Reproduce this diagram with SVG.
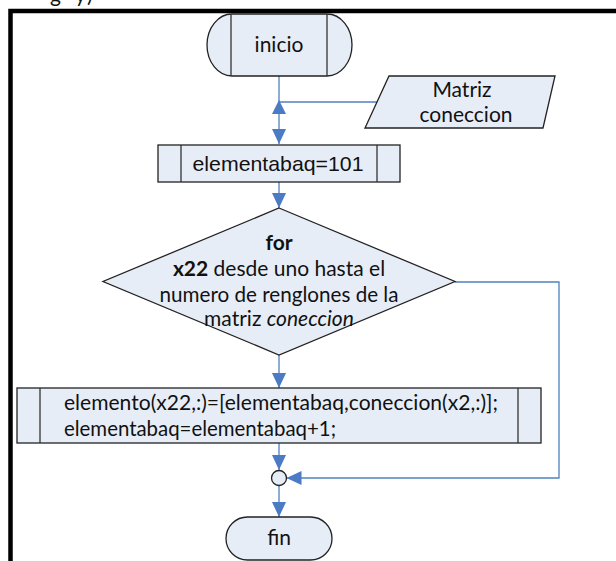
<svg xmlns="http://www.w3.org/2000/svg" width="616" height="561" viewBox="0 0 616 561">
<style>
.node{fill:#E7EDF7;stroke:#222;stroke-width:1.3}
.inner{stroke:#333;stroke-width:1.3;fill:none}
.conn{fill:none;stroke:#4F81BD;stroke-width:1.3}
.arr{fill:#4A7BC4;stroke:none}
.t{font-family:Lato,"Open Sans",sans-serif;font-size:21px;fill:#111}
.a{font-family:"Liberation Sans",Arial,sans-serif;font-size:21px;fill:#111}
</style>
<defs>
<marker id="ah" markerUnits="userSpaceOnUse" markerWidth="15" markerHeight="14" refX="15" refY="7" orient="auto">
<path d="M0,0 L15,7 L0,14 z" fill="#4A7BC4"/>
</marker>
</defs>
<rect width="616" height="561" fill="#fff"/>
<text class="t" x="50 75 87" y="2" font-size="22">gy)</text>
<path d="M10.5,561 V11 H616" fill="none" stroke="#000" stroke-width="4.5"/>

<g id="connectors">
<path class="conn" d="M279,76 V144" marker-end="url(#ah)"/>
<path class="conn" d="M377,102 H279"/>
<polygon class="arr" points="279,100 286,114 272,114"/>
<path class="conn" d="M279,182 V208" marker-end="url(#ah)"/>
<path class="conn" d="M279,355 V388" marker-end="url(#ah)"/>
<path class="conn" d="M279,443 V470" marker-end="url(#ah)"/>
<path class="conn" d="M455,282 H559 V478 H286.5" marker-end="url(#ah)"/>
<path class="conn" d="M279,485.5 V517" marker-end="url(#ah)"/>
</g>

<g id="inicio">
<rect class="node" x="207" y="14" width="145" height="62" rx="25" ry="31"/>
<path class="inner" d="M231,14 V76 M327,14 V76"/>
<text class="t" x="279" y="52" text-anchor="middle">inicio</text>
</g>

<g id="matriz">
<polygon class="node" points="389,76 555,76 543,128 365,128"/>
<text class="t" x="462" y="97" text-anchor="middle">Matriz</text>
<text class="t" x="466" y="122" text-anchor="middle">coneccion</text>
</g>

<g id="elementabaq">
<rect class="node" x="158" y="145" width="242" height="37"/>
<path class="inner" d="M181,145 V182 M377,145 V182"/>
<text class="a" x="278" y="171" text-anchor="middle" textLength="171" lengthAdjust="spacingAndGlyphs">elementabaq=101</text>
</g>

<g id="for">
<polygon class="node" points="279,208 455,281.5 279,355 103,281.5"/>
<text class="t" x="279" y="250" text-anchor="middle" font-weight="bold">for</text>
<text class="t" x="279" y="276" text-anchor="middle"><tspan font-weight="bold">x22</tspan> desde uno hasta el</text>
<text class="t" x="279" y="302" text-anchor="middle" textLength="239" lengthAdjust="spacingAndGlyphs">numero de renglones de la</text>
<text class="t" x="279" y="326" text-anchor="middle">matriz <tspan font-style="italic">coneccion</tspan></text>
</g>

<g id="proceso">
<rect class="node" x="17" y="388" width="524" height="55"/>
<path class="inner" d="M40,388 V443 M518,388 V443"/>
<text class="t" x="64" y="410" textLength="434" lengthAdjust="spacingAndGlyphs">elemento(x22,:)=[elementabaq,coneccion(x2,:)];</text>
<text class="t" x="64" y="436" textLength="272" lengthAdjust="spacingAndGlyphs">elementabaq=elementabaq+1;</text>
</g>

<g id="union">
<circle class="node" cx="279" cy="478" r="7.5"/>
</g>

<g id="fin">
<rect class="node" x="226" y="517" width="106" height="43" rx="21.5" ry="21.5"/>
<text class="t" x="279" y="545" text-anchor="middle">fin</text>
</g>
</svg>
